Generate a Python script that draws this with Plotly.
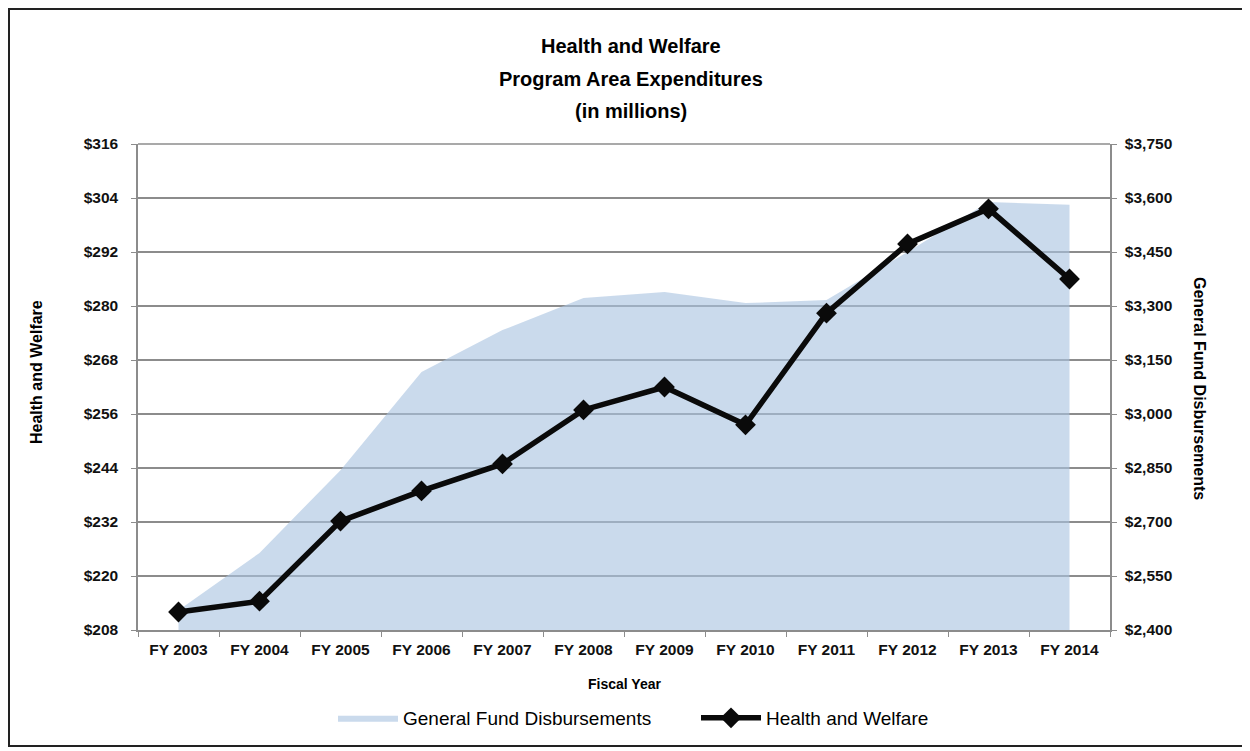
import plotly.graph_objects as go

categories = ["FY 2003", "FY 2004", "FY 2005", "FY 2006", "FY 2007", "FY 2008",
              "FY 2009", "FY 2010", "FY 2011", "FY 2012", "FY 2013", "FY 2014"]
health_welfare = [212.0, 214.4, 232.2, 238.9, 244.9, 256.9, 262.0, 253.6, 278.4, 293.8, 301.6, 286.0]
general_fund = [2455, 2614, 2844, 3117, 3233, 3322, 3339, 3308, 3317, 3450, 3589, 3581]

left_ticks = list(range(208, 317, 12))
right_ticks = list(range(2400, 3751, 150))

OFF = 8  # page body margin
W, H = 1242, 743
L, R, T, B = 138 - OFF, 1110 - OFF, 144 - OFF, 630 - OFF

def px(x):
    return (x - OFF - L) / (R - L)

def py(y):
    return (B - (y - OFF)) / (B - T)

fig = go.Figure()
fig.add_trace(go.Scatter(
    x=categories, y=general_fund, name="General Fund Disbursements",
    mode="lines", line=dict(width=0, color="rgba(170,195,225,0.62)"),
    fill="tozeroy", fillcolor="rgba(170,195,225,0.62)", yaxis="y"))
fig.add_trace(go.Scatter(
    x=categories, y=health_welfare, name="Health and Welfare",
    mode="lines+markers", line=dict(width=5.5, color="#0a0a0a"),
    marker=dict(symbol="diamond", size=16, color="#0a0a0a"), yaxis="y2"))

BOLD = "Liberation Sans, Arial"
tick_font = dict(family="Liberation Sans, Arial", size=15.5, color="#111111", weight="bold")

fig.update_layout(
    width=W, height=H,
    margin=dict(l=L, r=W - R, t=T, b=H - B),
    paper_bgcolor="white", plot_bgcolor="white",
    showlegend=True,
    legend=dict(orientation="h", x=px(333), xanchor="left", y=py(718), yanchor="middle",
                font=dict(family="Liberation Sans, Arial", size=19, color="black"),
                itemwidth=60, entrywidth=288, entrywidthmode="pixels",
                traceorder="normal", bgcolor="rgba(0,0,0,0)"),
    xaxis=dict(type="category", categoryorder="array", categoryarray=categories,
               showgrid=False, showline=True, linecolor="#8c8c8c", linewidth=1.5,
               ticks="outside", tickson="boundaries", ticklen=5, tickcolor="#8c8c8c",
               tickfont=tick_font, ticklabelstandoff=5, range=[-0.5, 11.5]),
    yaxis=dict(side="right", range=[2400, 3750], tickvals=right_ticks,
               ticktext=["${:,}".format(v) for v in right_ticks],
               showgrid=True, gridcolor="#8c8c8c", gridwidth=1.5,
               showline=True, linecolor="#8c8c8c", linewidth=1.5,
               ticks="outside", ticklen=5, tickcolor="#8c8c8c",
               tickfont=tick_font, ticklabelstandoff=5, zeroline=False),
    yaxis2=dict(side="left", overlaying="y", range=[208, 316], tickvals=left_ticks,
                ticktext=["${}".format(v) for v in left_ticks],
                showgrid=False, showline=True, linecolor="#8c8c8c", linewidth=1.5,
                ticks="outside", ticklen=5, tickcolor="#8c8c8c",
                tickfont=tick_font, ticklabelstandoff=10, zeroline=False),
)

title_font = dict(family=BOLD, size=20, color="black")
anns = []
for text, y in [("Health and Welfare", 46), ("Program Area Expenditures", 79), ("(in millions)", 111)]:
    anns.append(dict(text="<b>" + text + "</b>", x=px(631), y=py(y), xref="paper", yref="paper",
                     showarrow=False, xanchor="center", yanchor="middle", font=title_font))
axis_font = dict(family=BOLD, size=16, color="black")
anns.append(dict(text="<b>Health and Welfare</b>", x=px(36), y=py(372), xref="paper", yref="paper",
                 showarrow=False, textangle=-90, xanchor="center", yanchor="middle", font=axis_font))
anns.append(dict(text="<b>General Fund Disbursements</b>", x=px(1200), y=py(388), xref="paper", yref="paper",
                 showarrow=False, textangle=90, xanchor="center", yanchor="middle", font=axis_font))
anns.append(dict(text="<b>Fiscal Year</b>", x=px(624), y=py(684), xref="paper", yref="paper",
                 showarrow=False, xanchor="center", yanchor="middle",
                 font=dict(family=BOLD, size=14, color="black")))
fig.update_layout(annotations=anns)

fig.add_shape(type="rect", xref="paper", yref="paper",
              x0=px(9), x1=px(1244), y0=py(746), y1=py(9),
              line=dict(color="#222222", width=2), fillcolor="rgba(0,0,0,0)", layer="above")
fig.add_shape(type="line", xref="paper", yref="paper", x0=0, x1=1, y0=1, y1=1,
              line=dict(color="#8c8c8c", width=1.5))

fig.write_html("out.html")
